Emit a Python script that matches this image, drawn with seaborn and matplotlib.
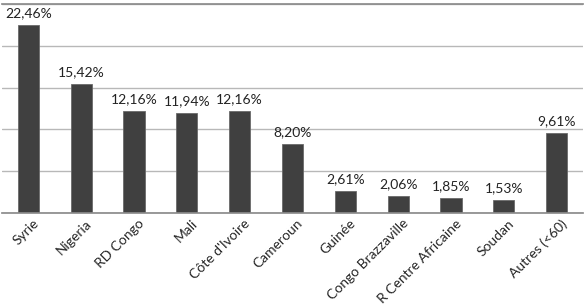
import seaborn as sns
import matplotlib.pyplot as plt
import matplotlib.transforms as mtransforms
import pandas as pd

sns.set_theme(style="white")
plt.rcParams['font.family'] = ['Lato', 'DejaVu Sans']

pays = ["Syrie", "Nigeria", "RD Congo", "Mali", "Côte d'Ivoire", "Cameroun",
        "Guinée", "Congo Brazzaville", "R Centre Africaine", "Soudan", "Autres (<60)"]
parts = [22.46, 15.42, 12.16, 11.94, 12.16, 8.20, 2.61, 2.06, 1.85, 1.53, 9.61]

df = pd.DataFrame({"pays": pays, "part": parts})

fig = plt.figure(figsize=(5.86, 3.06), dpi=100)
ax = fig.add_axes([2 / 586, 1 - 213 / 306, 581 / 586, 209 / 306])

sns.barplot(data=df, x="pays", y="part", color="#404040", width=0.4,
            saturation=1, edgecolor="#6a6a6a", linewidth=0.6, ax=ax, zorder=3)

ax.set_ylim(0, 25)
ax.set_xlim(-0.5, len(pays) - 0.5)
ax.set_yticks([0, 5, 10, 15, 20, 25])
ax.set_yticklabels([])
ax.yaxis.grid(True, color="#b8b8b8", linewidth=1)
ax.tick_params(axis="y", length=0)
ax.set_xlabel("")
ax.set_ylabel("")

for s in ["left", "right"]:
    ax.spines[s].set_visible(False)
ax.spines["top"].set_color("#8c8c8c")
ax.spines["bottom"].set_color("#8c8c8c")
ax.spines["bottom"].set_zorder(4)

# boundary ticks between categories
ax.set_xticks([i + 0.5 for i in range(len(pays) - 1)], minor=True)
ax.tick_params(axis="x", which="minor", length=5, color="#8c8c8c", width=0.8, direction="out")
ax.tick_params(axis="x", which="major", length=0, pad=3)
ax.set_xticks(range(len(pays)))
ax.set_xticklabels(pays, rotation=45, ha="right", rotation_mode="anchor", fontsize=10)

# nudge the rotated labels a little to the right, like the original
offset = mtransforms.ScaledTranslation(4 / 100, 0, fig.dpi_scale_trans)
for lab in ax.get_xticklabels():
    lab.set_transform(lab.get_transform() + offset)

for i, v in enumerate(parts):
    ax.text(i, v + 0.7, f"{v:.2f}%".replace(".", ","), ha="center", va="bottom",
            fontsize=10, color="#222222")

fig.savefig("out.png", dpi=100)
